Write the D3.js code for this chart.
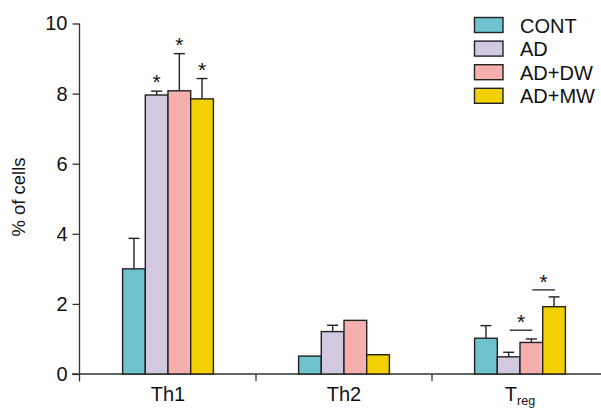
<!DOCTYPE html>
<html><head><meta charset="utf-8">
<script src="https://cdn.jsdelivr.net/npm/d3@7"></script>
<style>body{margin:0;background:#fff}svg{display:block}text{font-family:"Liberation Sans",Arial,sans-serif;fill:#111}</style>
</head><body><svg id="c" width="601" height="408"></svg>
<script>
const groups = ["Th1","Th2","Treg"];
const series = ["CONT","AD","AD+DW","AD+MW"];
const colors = ["#6ec3cf","#d2c9e1","#f5b0ad","#f3d100"];
const values = {
  "CONT":  [3.0, 0.51, 1.02],
  "AD":    [7.96, 1.21, 0.49],
  "AD+DW": [8.08, 1.53, 0.90],
  "AD+MW": [7.85, 0.55, 1.92]
};
const errors = {
  "CONT":  [0.87, 0, 0.36],
  "AD":    [0.11, 0.18, 0.13],
  "AD+DW": [1.06, 0, 0.10],
  "AD+MW": [0.58, 0, 0.28]
};
const yTicks = [0,2,4,6,8,10];
// stars above individual bars: [group, series]
const barStars = [["Th1","AD"],["Th1","AD+DW"],["Th1","AD+MW"]];
// bracketed comparisons in Treg: [from series, to series, y value]
const brackets = [["AD","AD+DW",1.25],["AD+DW","AD+MW",2.4]];

const svg = d3.select("#c");
const x0 = d3.scaleBand().domain(groups).range([80,608]).paddingInner(0).paddingOuter(0);
const y = d3.scaleLinear().domain([0,10]).range([374,23.5]);
const barW = 22.7;
const xBar = (g,s) => x0(g) + x0.bandwidth()/2 - 2*barW + series.indexOf(s)*barW;

// y axis
const yAx = svg.append("g").attr("transform","translate(79.5,0)")
  .call(d3.axisLeft(y).tickValues(yTicks).tickSize(7).tickPadding(5).tickSizeOuter(0));
yAx.select(".domain").attr("d", `M0,${y(10)}V381.5`).attr("stroke","#333").attr("stroke-width",1.3);
yAx.selectAll(".tick line").attr("stroke","#333").attr("stroke-width",1.3);
yAx.selectAll(".tick text").attr("font-size",20).attr("font-family","Liberation Sans, Arial, sans-serif").attr("fill","#111");

// x axis baseline
svg.append("line").attr("x1",72).attr("x2",601).attr("y1",374).attr("y2",374).attr("stroke","#333").attr("stroke-width",1.3);
groups.slice(1).forEach(g=>{
  svg.append("line").attr("x1",x0(g)).attr("x2",x0(g)).attr("y1",374).attr("y2",381).attr("stroke","#333").attr("stroke-width",1.3);
});

// bars
series.forEach((s,si)=>{
  groups.forEach((g,gi)=>{
    const v = values[s][gi], e = errors[s][gi];
    const bx = xBar(g,s);
    if (e>0) {
      const cx = bx + barW/2;
      svg.append("line").attr("x1",cx).attr("x2",cx).attr("y1",y(v)).attr("y2",y(v+e)).attr("stroke","#222").attr("stroke-width",1.4);
      svg.append("line").attr("x1",cx-5.5).attr("x2",cx+5.5).attr("y1",y(v+e)).attr("y2",y(v+e)).attr("stroke","#222").attr("stroke-width",1.4);
    }
    svg.append("rect").attr("x",bx).attr("y",y(v)).attr("width",barW).attr("height",y(0)-y(v))
      .attr("fill",colors[si]).attr("stroke","#222").attr("stroke-width",1.4);
  });
});

// stars
barStars.forEach(([g,s])=>{
  const gi = groups.indexOf(g);
  const top = values[s][gi] + errors[s][gi];
  svg.append("text").attr("x",xBar(g,s)+barW/2).attr("y",y(top)-2).attr("text-anchor","middle").attr("font-size",21).text("*");
});
brackets.forEach(([a,b,v])=>{
  const x1 = xBar("Treg",a)+barW/2, x2 = xBar("Treg",b)+barW/2;
  svg.append("line").attr("x1",x1+1).attr("x2",x2+1).attr("y1",y(v)).attr("y2",y(v)).attr("stroke","#222").attr("stroke-width",1.3);
  svg.append("text").attr("x",(x1+x2)/2+1).attr("y",y(v)-1).attr("text-anchor","middle").attr("font-size",21).text("*");
});

// x labels
groups.forEach(g=>{
  const cx = x0(g)+x0.bandwidth()/2;
  const t = svg.append("text").attr("x",cx).attr("y",401).attr("text-anchor","middle").attr("font-size",20);
  if (g==="Treg") {
    t.append("tspan").text("T");
    t.append("tspan").attr("font-size",12.5).attr("dy",3.5).text("reg");
  } else t.text(g);
});

// y label
svg.append("text").attr("transform","translate(25,197) rotate(-90)").attr("text-anchor","middle").attr("font-size",18.5).text("% of cells");

// legend
series.forEach((s,i)=>{
  const ly = 17.5 + i*23.6;
  svg.append("rect").attr("x",474.5).attr("y",ly).attr("width",28.5).attr("height",15).attr("fill",colors[i]).attr("stroke","#222").attr("stroke-width",1.4);
  svg.append("text").attr("x",520).attr("y",ly+15).attr("font-size",20).text(s);
});
</script></body></html>
